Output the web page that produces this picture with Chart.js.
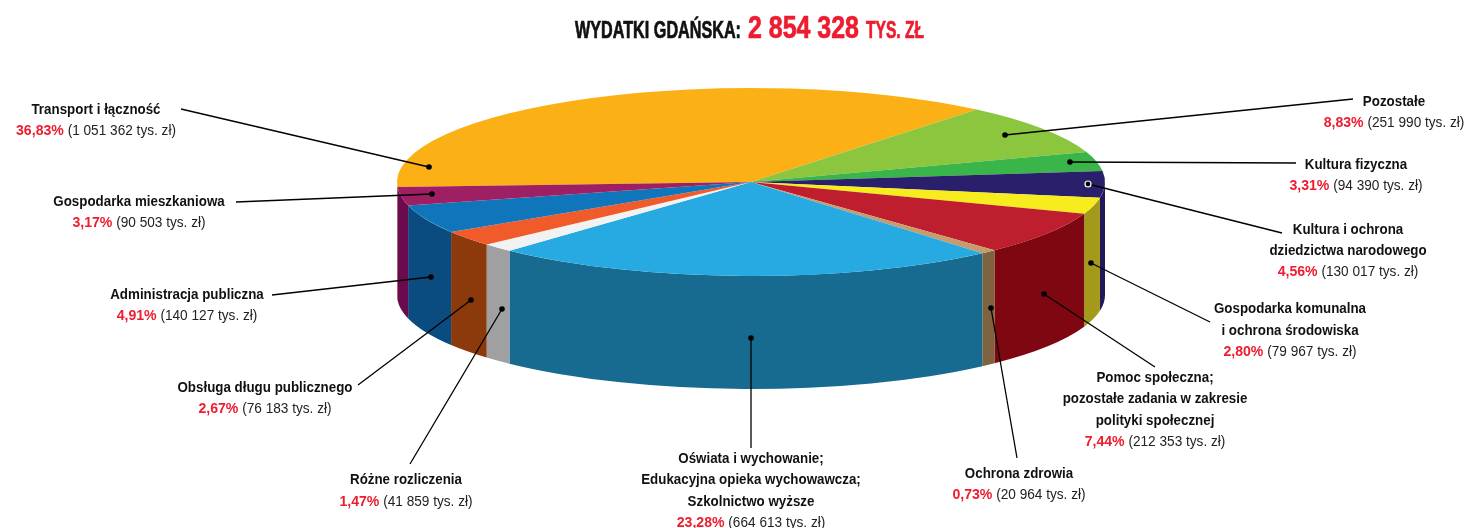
<!DOCTYPE html>
<html lang="pl">
<head>
<meta charset="utf-8">
<title>Wydatki Gdańska</title>
<script src="https://cdn.jsdelivr.net/npm/chart.js@4/dist/chart.umd.min.js"></script>
<style>
  html, body { margin: 0; padding: 0; background: #fff; }
  canvas { display: block; }
</style>
</head>
<body>
<canvas id="pieChart" width="1465" height="528"></canvas>
<script>
// --- Data ---
const categories = [
  ["Transport i łączność"],
  ["Pozostałe"],
  ["Kultura fizyczna"],
  ["Kultura i ochrona", "dziedzictwa narodowego"],
  ["Gospodarka komunalna", "i ochrona środowiska"],
  ["Pomoc społeczna;", "pozostałe zadania w zakresie", "polityki społecznej"],
  ["Ochrona zdrowia"],
  ["Oświata i wychowanie;", "Edukacyjna opieka wychowawcza;", "Szkolnictwo wyższe"],
  ["Różne rozliczenia"],
  ["Obsługa długu publicznego"],
  ["Administracja publiczna"],
  ["Gospodarka mieszkaniowa"]
];
const amounts = [1051362, 251990, 94390, 130017, 79967, 212353, 20964, 664613, 41859, 76183, 140127, 90503];
const amountLabels = ["1 051 362", "251 990", "94 390", "130 017", "79 967", "212 353", "20 964", "664 613", "41 859", "76 183", "140 127", "90 503"];
const percentLabels = ["36,83%", "8,83%", "3,31%", "4,56%", "2,80%", "7,44%", "0,73%", "23,28%", "1,47%", "2,67%", "4,91%", "3,17%"];

// --- Colours ---
const topColors = ["#FBB116", "#8CC63F", "#39B54A", "#2A1F6B", "#F7EC1E", "#BE1E2D", "#C69C6D", "#27AAE1", "#F2F2F2", "#F15A29", "#1076BC", "#9E1F63"];
const wallColors = ["#C98C10", "#6F9E30", "#2C8F3A", "#21195A", "#A39A1B", "#7F0712", "#7F6340", "#176A90", "#A0A0A3", "#8C3A0C", "#0A4B80", "#6B0A4E"];

// --- Layout of the fake 3D and the annotations ---
const SQUASH_X = 354 / 94;
const DEPTH = 113;
const RED = "#ED1C2E";
const TEXT_FONT = '"Liberation Sans", sans-serif';
const NAME_SCALE = 0.89;   // no condensed face installed, so squeeze the text
const VALUE_SCALE = 0.94;

// one entry per category: centre x, y of first line, line step, leader from -> dot
const labelLayout = [
  { cx: 96, y: 114, step: 21, from: [181, 109], dot: [429, 167] },
  { cx: 1394, y: 106, step: 21, from: [1353, 99], dot: [1005, 135] },
  { cx: 1356, y: 169, step: 21, from: [1296, 163], dot: [1070, 162] },
  { cx: 1348, y: 234, step: 21, from: [1282, 233], dot: [1088, 184], ring: true },
  { cx: 1290, y: 313, step: 21.5, from: [1210, 322], dot: [1091, 263] },
  { cx: 1155, y: 382, step: 21.3, from: [1155, 367], dot: [1044, 294] },
  { cx: 1019, y: 478, step: 21, from: [1017, 458], dot: [991, 308] },
  { cx: 751, y: 463, step: 21.3, from: [751, 448], dot: [751, 338] },
  { cx: 406, y: 484, step: 21.5, from: [410, 464], dot: [502, 309] },
  { cx: 265, y: 392, step: 21, from: [358, 385], dot: [471, 300] },
  { cx: 187, y: 299, step: 21, from: [272, 295], dot: [431, 277] },
  { cx: 139, y: 206, step: 21, from: [236, 202], dot: [432, 194] }
];

// text squeezed horizontally, left aligned at x
function squeezedText(ctx, text, x, y, font, color, scaleX, weight) {
  ctx.save();
  ctx.font = font;
  ctx.fillStyle = color;
  ctx.textAlign = "left";
  ctx.textBaseline = "alphabetic";
  ctx.translate(x, y);
  ctx.scale(scaleX, 1);
  ctx.fillText(text, 0, 0);
  if (weight) {
    ctx.strokeStyle = color;
    ctx.lineWidth = weight;
    ctx.strokeText(text, 0, 0);
  }
  ctx.restore();
}

function textWidth(ctx, text, font, scaleX) {
  ctx.font = font;
  return ctx.measureText(text).width * scaleX;
}

// title pieces are fitted to the widths
function fitText(ctx, text, x, y, font, color, width, weight) {
  squeezedText(ctx, text, x, y, font, color, width / textWidth(ctx, text, font, 1), weight);
}

// side wall of the pie, only the part of each slice that faces the viewer
function drawWalls(ctx, arcs) {
  const full = Math.PI * 2;
  arcs.forEach((arc, i) => {
    [-full, 0, full].forEach(shift => {
      const lo = Math.max(arc.startAngle + shift, 0);
      const hi = Math.min(arc.endAngle + shift, Math.PI);
      if (hi <= lo) return;
      ctx.beginPath();
      ctx.arc(arc.x, arc.y + DEPTH, arc.outerRadius, lo, hi);
      ctx.arc(arc.x, arc.y, arc.outerRadius, hi, lo, true);
      ctx.closePath();
      ctx.fillStyle = wallColors[i];
      ctx.fill();
    });
  });
}

const pie3d = {
  id: "pie3d",
  beforeDatasetsDraw(chart) {
    const ctx = chart.ctx;
    const arcs = chart.getDatasetMeta(0).data;
    ctx.save();
    ctx.translate(arcs[0].x, 0);
    ctx.scale(SQUASH_X, 1);
    ctx.translate(-arcs[0].x, 0);
    drawWalls(ctx, arcs);
  },
  afterDatasetsDraw(chart) {
    chart.ctx.restore();
  }
};

const annotations = {
  id: "annotations",
  afterDraw(chart) {
    const ctx = chart.ctx;
    const nameFont = `bold 15px ${TEXT_FONT}`;
    const amountFont = `14.5px ${TEXT_FONT}`;

    // title
    fitText(ctx, "WYDATKI GDAŃSKA:", 575, 38, `bold 23px ${TEXT_FONT}`, "#111", 166, 0.7);
    fitText(ctx, "2 854 328", 748, 38, `bold 31px ${TEXT_FONT}`, RED, 111, 0.7);
    fitText(ctx, "TYS. ZŁ", 866, 38, `bold 23px ${TEXT_FONT}`, RED, 58, 0.7);

    labelLayout.forEach((item, i) => {
      // leader
      ctx.strokeStyle = "#000";
      ctx.lineWidth = 1.3;
      ctx.beginPath();
      ctx.moveTo(item.from[0], item.from[1]);
      ctx.lineTo(item.dot[0], item.dot[1]);
      ctx.stroke();
      ctx.beginPath();
      ctx.arc(item.dot[0], item.dot[1], item.ring ? 3 : 2.8, 0, Math.PI * 2);
      ctx.fillStyle = "#000";
      ctx.fill();
      if (item.ring) {
        ctx.strokeStyle = "#fff";
        ctx.lineWidth = 1.2;
        ctx.stroke();
      }

      // name lines
      const names = categories[i];
      names.forEach((line, n) => {
        const w = textWidth(ctx, line, nameFont, NAME_SCALE);
        squeezedText(ctx, line, item.cx - w / 2, item.y + n * item.step, nameFont, "#111", NAME_SCALE);
      });

      // percent + amount line
      const y = item.y + names.length * item.step;
      const pct = percentLabels[i];
      const rest = ` (${amountLabels[i]} tys. zł)`;
      const pw = textWidth(ctx, pct, nameFont, VALUE_SCALE);
      const rw = textWidth(ctx, rest, amountFont, VALUE_SCALE);
      const left = item.cx - (pw + rw) / 2;
      squeezedText(ctx, pct, left, y, nameFont, RED, VALUE_SCALE);
      squeezedText(ctx, rest, left + pw, y, amountFont, "#222", VALUE_SCALE);
    });
  }
};

new Chart(document.getElementById("pieChart").getContext("2d"), {
  type: "pie",
  data: {
    labels: categories.map(c => c.join(" ")),
    datasets: [{
      data: amounts,
      backgroundColor: topColors,
      borderWidth: 0,
      clip: false
    }]
  },
  options: {
    responsive: false,
    animation: false,
    rotation: -93,
    layout: { padding: { left: 37, right: 0, top: 88, bottom: 252 } },
    plugins: { legend: { display: false }, tooltip: { enabled: false } }
  },
  plugins: [pie3d, annotations]
});
</script>
</body>
</html>
